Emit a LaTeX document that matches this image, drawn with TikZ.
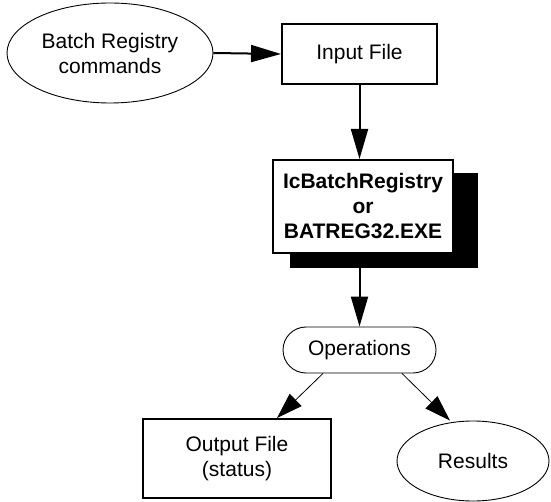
\documentclass[tikz,border=0pt]{standalone}
\usepackage{fontspec}
\setmainfont{Liberation Sans}
\usetikzlibrary{arrows.meta,shapes.geometric}
\begin{document}
\begin{tikzpicture}[x=1pt,y=-1pt,
  every node/.style={font=\fontsize{21}{25}\selectfont, align=center, inner sep=0pt},
  oval/.style={ellipse, draw, line width=0.9pt},
  filebox/.style={rectangle, draw, line width=2pt},
  pill/.style={rectangle, rounded corners=23pt, draw, line width=0.9pt},
  bigarrow/.style={line width=2pt, -{Triangle[length=30pt,width=17pt]}},
  thinarrow/.style={line width=0.8pt, -{Triangle[length=26pt,width=17pt]}}]
  \useasboundingbox (0,0) rectangle (551,502);

  % sources and input
  \node[oval, minimum width=206pt, minimum height=100pt] (cmds) at (110,53) {Batch Registry\\commands};
  \node[filebox, minimum width=155pt, minimum height=60pt] (input) at (359.5,54) {Input File};

  % batch program with drop shadow
  \node[fill=black, minimum width=188pt, minimum height=95pt] (shadow) at (384,220.5) {};
  \node[filebox, fill=white, minimum width=180pt, minimum height=93pt] (prog) at (363,206.5)
    {\bfseries IcBatchRegistry\\\bfseries or\\\bfseries BATREG32.EXE};

  % operations and outputs
  \node[pill, minimum width=153pt, minimum height=46pt] (ops) at (359.5,350) {Operations};
  \node[filebox, minimum width=188pt, minimum height=79pt] (output) at (237,458.5) {Output File\\(status)};
  \node[oval, minimum width=152pt, minimum height=80pt] (results) at (473,461) {Results};

  % connectors
  \draw[bigarrow] (cmds.east) -- (input.west);
  \draw[bigarrow] (input.south) -- (input.south |- prog.north);
  \draw[bigarrow] (ops.north |- shadow.south) -- (ops.north);
  \draw[thinarrow] ([xshift=-36.5pt]ops.south) -- ([xshift=40pt]output.north);
  \draw[thinarrow] ([xshift=42.5pt]ops.south) -- ([xshift=-23pt]results.north);
\end{tikzpicture}
\end{document}
